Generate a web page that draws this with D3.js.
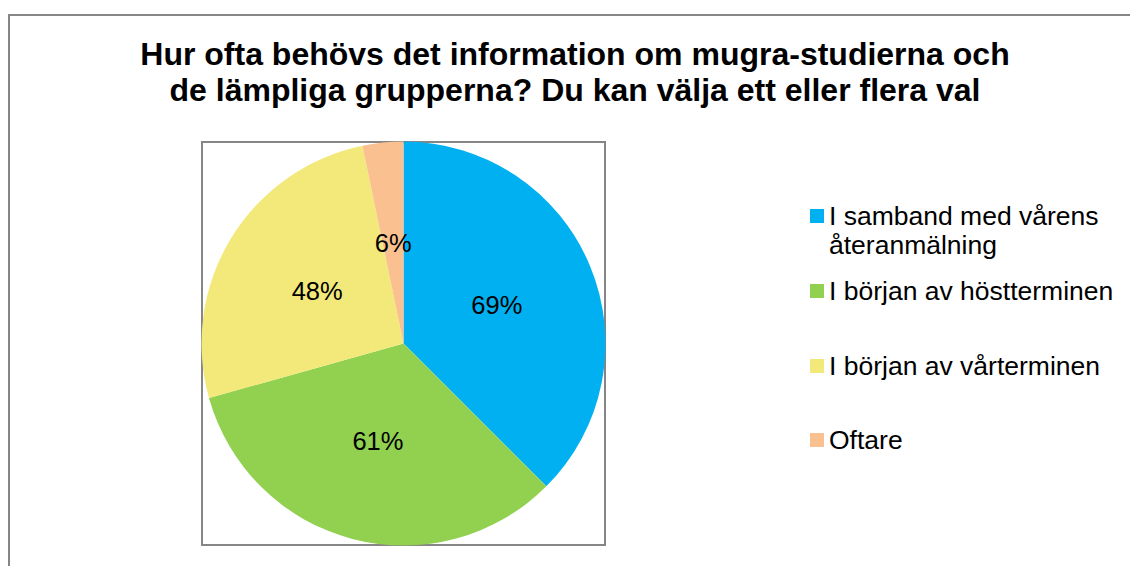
<!DOCTYPE html>
<html>
<head>
<meta charset="utf-8">
<script src="https://cdn.jsdelivr.net/npm/d3@7"></script>
<style>
  body { margin: 0; background: #fff; }
  text { font-family: Arial, "Liberation Sans", sans-serif; }
</style>
</head>
<body>
<script>
// chart data
var categories = ["I samband med vårens återanmälning", "I början av höstterminen", "I början av vårterminen", "Oftare"];
var values = [69, 61, 48, 6];
var labels = ["69%", "61%", "48%", "6%"];
var colors = ["#00B0F0", "#92D050", "#F3E97B", "#FAC090"];
var titleLines = ["Hur ofta behövs det information om mugra-studierna och", "de lämpliga grupperna? Du kan välja ett eller flera val"];
// legend text split into lines
var legendLines = [["I samband med vårens", "återanmälning"], ["I början av höstterminen"], ["I början av vårterminen"], ["Oftare"]];

var width = 1130, height = 566;

var svg = d3.select("body").append("svg")
  .attr("width", width)
  .attr("height", height);

// outer chart frame (runs off right and bottom)
svg.append("rect")
  .attr("x", 9).attr("y", 15)
  .attr("width", 1140).attr("height", 600)
  .attr("fill", "#fff")
  .attr("stroke", "#868686")
  .attr("stroke-width", 2);

// title
svg.append("g").selectAll("text")
  .data(titleLines)
  .enter().append("text")
  .attr("x", 575)
  .attr("y", function(d, i) { return 65 + i * 36; })
  .attr("text-anchor", "middle")
  .attr("font-size", 32)
  .attr("font-weight", "bold")
  .attr("fill", "#000")
  .text(function(d) { return d; });

// plot area box
var box = { x: 202, y: 142, w: 403, h: 403 };
svg.append("rect")
  .attr("x", box.x).attr("y", box.y)
  .attr("width", box.w).attr("height", box.h)
  .attr("fill", "none")
  .attr("stroke", "#868686")
  .attr("stroke-width", 2);

var cx = 403.5, cy = 343.5, radius = 202;

var pie = d3.pie().sort(null).value(function(d) { return d; });
var arc = d3.arc().innerRadius(0).outerRadius(radius);
var labelArc = d3.arc().innerRadius(radius * 0.5).outerRadius(radius * 0.5);

var g = svg.append("g").attr("transform", "translate(" + cx + "," + cy + ")");
var arcs = pie(values);

g.selectAll("path")
  .data(arcs)
  .enter().append("path")
  .attr("d", arc)
  .attr("fill", function(d, i) { return colors[i]; });

g.selectAll("text")
  .data(arcs)
  .enter().append("text")
  .attr("transform", function(d) { return "translate(" + labelArc.centroid(d) + ")"; })
  .attr("text-anchor", "middle")
  .attr("dy", "0.35em")
  .attr("font-size", 25.5)
  .attr("fill", "#000")
  .text(function(d, i) { return labels[i]; });

// legend
var legendY = [216, 291, 366, 440];
var legend = svg.append("g").selectAll("g")
  .data(categories)
  .enter().append("g")
  .attr("transform", function(d, i) { return "translate(810," + legendY[i] + ")"; });

legend.append("rect")
  .attr("x", 0).attr("y", -7)
  .attr("width", 14).attr("height", 14)
  .attr("fill", function(d, i) { return colors[i]; });

legend.append("text")
  .attr("x", 19)
  .attr("y", 9)
  .attr("font-size", 26.5)
  .attr("fill", "#000")
  .each(function(d, i) {
    var t = d3.select(this);
    legendLines[i].forEach(function(line, j) {
      t.append("tspan")
        .attr("x", 19)
        .attr("dy", j === 0 ? 0 : 29)
        .text(line);
    });
  });
</script>
</body>
</html>
